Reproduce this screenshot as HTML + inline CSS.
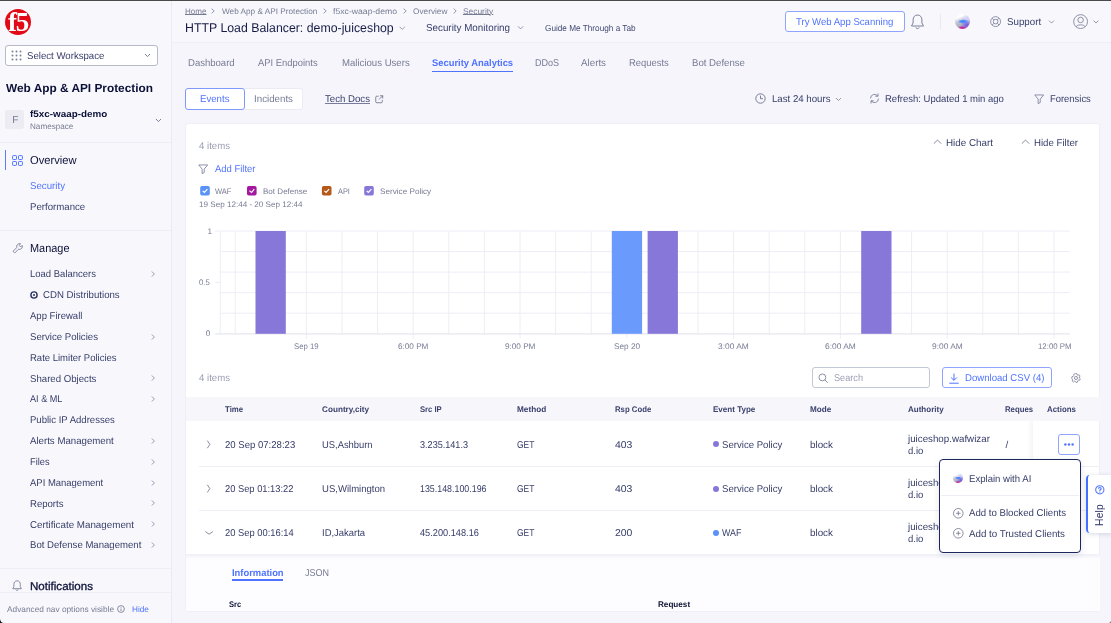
<!DOCTYPE html>
<html lang="en"><head><meta charset="utf-8"><title>HTTP Load Balancer: demo-juiceshop</title>
<style>
*{box-sizing:border-box;margin:0;padding:0}
html,body{width:1111px;height:623px;overflow:hidden}
body{position:relative;background:#f5f5fb;font-family:"Liberation Sans",sans-serif;color:#2a3263}
.a{position:absolute;display:block}
.t{text-rendering:geometricPrecision;position:absolute;white-space:nowrap;z-index:5;transform-origin:0 50%}
svg{overflow:visible}
.ln{position:absolute;background:#eeeef6;height:1px}

</style></head>
<body>
<!-- page backgrounds -->
<div class="a" style="left:0;top:0;width:172px;height:623px;background:#f8f8fc;border-right:1px solid #ebebf5"></div>
<div class="a" style="left:0;top:0;width:1111px;height:1px;background:#4a4a4a;z-index:40"></div>
<div class="a" style="left:172px;top:1px;width:939px;height:41px;background:#f7f7fc"></div>
<div class="ln" style="left:172px;top:42px;width:939px"></div>

<!-- logo -->
<div class="a" style="left:5.2px;top:8.5px;width:26.3px;height:26.3px;border-radius:50%;background:#e20a17;overflow:hidden"><span class="a" style="left:2.7px;top:-1.4px;font-family:'Liberation Serif',serif;font-weight:700;font-size:27px;line-height:30px;letter-spacing:-1.2px;color:#fff">f5</span></div>

<!-- workspace select -->
<div class="a" style="left:5.4px;top:45.4px;width:152.6px;height:20.3px;background:#fff;border:1px solid #b7bacb;border-radius:3px"></div>
<svg class="a" style="left:11px;top:50.3px" width="11" height="11" viewBox="0 0 11 11" fill="#7b8099"><circle cx="1.5" cy="1.5" r="1"/><circle cx="5.5" cy="1.5" r="1"/><circle cx="9.5" cy="1.5" r="1"/><circle cx="1.5" cy="5.5" r="1"/><circle cx="5.5" cy="5.5" r="1"/><circle cx="9.5" cy="5.5" r="1"/><circle cx="1.5" cy="9.5" r="1"/><circle cx="5.5" cy="9.5" r="1"/><circle cx="9.5" cy="9.5" r="1"/></svg>
<svg class="a" style="left:144px;top:53px" width="7" height="5" viewBox="0 0 7 5"><path d="M1 1 L3.5 3.6 L6 1" fill="none" stroke="#7b8099" stroke-width="1"/></svg>

<!-- namespace -->
<div class="a" style="left:5.4px;top:110px;width:19px;height:19.2px;background:#ececf2;border-radius:2px"></div>
<svg class="a" style="left:154.5px;top:117.6px" width="7" height="5" viewBox="0 0 7 5"><path d="M1 1 L3.5 3.6 L6 1" fill="none" stroke="#7b8099" stroke-width="1"/></svg>
<div class="ln" style="left:0;top:142px;width:171px"></div>

<!-- overview -->
<div class="a" style="left:5px;top:149.8px;width:1.4px;height:20.4px;background:#5c7dff"></div>
<svg class="a" style="left:11.6px;top:154.8px" width="11" height="11" viewBox="0 0 11 11" fill="none" stroke="#4f73ff" stroke-width="1"><rect x="0.6" y="0.6" width="3.9" height="3.9" rx="0.7"/><rect x="6.5" y="0.6" width="3.9" height="3.9" rx="0.7"/><rect x="0.6" y="6.5" width="3.9" height="3.9" rx="0.7"/><rect x="6.5" y="6.5" width="3.9" height="3.9" rx="0.7"/></svg>
<div class="ln" style="left:0;top:230px;width:171px"></div>

<!-- manage wrench -->
<svg class="a" style="left:11.5px;top:242.5px" width="11" height="11" viewBox="0 0 11 11" fill="none" stroke="#7b8099" stroke-width="0.9" stroke-linejoin="round"><path d="M4.81 4.49 A2.9 2.9 0 0 1 8.63 0.83 L7.07 2.39 L8.61 3.93 L10.17 2.37 A2.9 2.9 0 0 1 6.51 6.19 L2.75 9.95 L1.05 8.25 Z"/></svg>
<!-- CDN icon -->
<svg class="a" style="left:29.7px;top:290.9px" width="8" height="8" viewBox="0 0 8 8"><circle cx="4" cy="4" r="3.1" fill="none" stroke="#2a3263" stroke-width="1.4"/><circle cx="4" cy="4" r="1" fill="#2a3263"/></svg>

<div class="ln" style="left:0;top:568px;width:171px"></div>
<!-- bell (sidebar) -->
<svg class="a" style="left:11.9px;top:580.4px" width="10.2" height="11.5" viewBox="0 0 10 11.5" fill="none" stroke="#7b8099" stroke-width="0.9" stroke-linejoin="round"><path d="M5 0.8 C2.9 0.8 1.8 2.5 1.8 4.3 V6.6 L0.7 8.7 H9.3 L8.2 6.6 V4.3 C8.2 2.5 7.1 0.8 5 0.8 Z"/><path d="M3.8 9.6 A1.3 1.3 0 0 0 6.2 9.6"/></svg>
<div class="a" style="left:0;top:592px;width:171px;height:31px;background:#f8f8fc;border-top:1px solid #eeeef6"></div>
<svg class="a" style="left:116.6px;top:605px" width="8" height="8" viewBox="0 0 8 8"><circle cx="4" cy="4" r="3.4" fill="none" stroke="#6c7189" stroke-width="0.8"/><path d="M4 3.5 V6 M4 2 V2.7" stroke="#6c7189" stroke-width="0.8"/></svg>

<!-- breadcrumb chevrons -->
<svg class="a" style="left:0;top:0" width="1111" height="44" viewBox="0 0 1111 44" fill="none" stroke="#8a8fa6" stroke-width="0.9">
<path d="M211.6 8.6 L214.2 11 L211.6 13.4"/><path d="M323.6 8.6 L326.2 11 L323.6 13.4"/><path d="M403.6 8.6 L406.2 11 L403.6 13.4"/><path d="M453.6 8.6 L456.2 11 L453.6 13.4"/>
<path d="M399.6 26.8 L402.2 29.4 L404.8 26.8"/><path d="M518 26.3 L520.6 28.9 L523.2 26.3"/>
<path d="M1049 20.6 L1051.5 23.1 L1054 20.6"/><path d="M1093.6 20.6 L1096 23 L1098.4 20.6"/>
</svg>

<!-- try button -->
<div class="a" style="left:784.7px;top:11px;width:120px;height:21px;border:1px solid #8ea4ff;border-radius:3px;background:#fff"></div>
<!-- bell header -->
<svg class="a" style="left:909.8px;top:13.6px" width="15" height="16" viewBox="0 0 14 16" fill="none" stroke="#7b8099" stroke-width="1" stroke-linejoin="round"><path d="M7 1 C4.2 1 2.6 3.2 2.6 5.8 V9 L1 12 H13 L11.4 9 V5.800 C11.4 3.2 9.8 1 7 1 Z"/><path d="M5.300 13.400 A1.8 1.800 0 0 0 8.700 13.400"/></svg>
<div class="a" style="left:940.2px;top:14px;width:1px;height:15px;background:#e8e9f1"></div>
<!-- avatar -->
<div class="a" style="left:954.9px;top:14.1px;width:15.4px;height:15.4px;border-radius:50%;background:radial-gradient(ellipse 30% 14% at 48% 94%,#d0289a 0,#c527a5 50%,rgba(197,39,165,0) 100%),radial-gradient(ellipse 36% 15% at 54% 50%,#3f84ff 0,#4c8aff 45%,rgba(76,138,255,0) 100%),radial-gradient(circle at 80% 74%,#7656e0 0,rgba(118,86,224,0) 36%),radial-gradient(circle at 88% 32%,#d6d4ff 0,rgba(214,212,255,0) 40%),linear-gradient(160deg,#ffffff 22%,#c3c4d3 45%,#a3a5bc 78%)"></div>
<!-- support icon -->
<svg class="a" style="left:990px;top:15.900px" width="11.2" height="11.200" viewBox="0 0 12 12" fill="none" stroke="#7b8099" stroke-width="0.9"><circle cx="6" cy="6" r="5.300"/><circle cx="6" cy="6" r="2.500"/><path d="M2.300 2.300 L4.200 4.200 M9.700 2.300 L7.800 4.200 M2.300 9.700 L4.200 7.800 M9.700 9.700 L7.800 7.800"/></svg>
<!-- user icon -->
<svg class="a" style="left:1073px;top:13.900px" width="15.2" height="15.200" viewBox="0 0 16 16" fill="none" stroke="#7b8099" stroke-width="0.9"><circle cx="8" cy="8" r="7.300"/><circle cx="8" cy="6.300" r="2.900"/><path d="M3.300 13.400 C4 10.800 12 10.800 12.700 13.400"/></svg>

<!-- tab underline -->
<div class="a" style="left:432.300px;top:70.6px;width:81.1px;height:1.3px;background:#4f73ff"></div>

<!-- Events / Incidents -->
<div class="a" style="left:244px;top:88px;width:59.3px;height:22px;background:#fff;border:1px solid #ebebf4;border-left:none;border-radius:0 3px 3px 0"></div>
<div class="a" style="left:185px;top:88px;width:59.6px;height:22px;background:#fff;border:1px solid #7f99ff;border-radius:3px"></div>
<svg class="a" style="left:374.600px;top:94.600px" width="8.500" height="8.500" viewBox="0 0 9 9" fill="none" stroke="#6c7189" stroke-width="0.9"><path d="M3.800 1.300 H1.800 A1 1 0 0 0 0.800 2.300 V7.200 A1 1 0 0 0 1.800 8.200 H6.700 A1 1 0 0 0 7.700 7.200 V5.200"/><path d="M5.300 0.800 H8.200 V3.700 M8.200 0.800 L4.300 4.700"/></svg>
<!-- clock -->
<svg class="a" style="left:755.3px;top:93.4px" width="11" height="11" viewBox="0 0 11 11" fill="none" stroke="#6c7189" stroke-width="0.9"><circle cx="5.500" cy="5.500" r="4.700"/><path d="M5.500 2.600 V5.700 H8"/></svg>
<svg class="a" style="left:834.6px;top:96.6px" width="7" height="5" viewBox="0 0 7 5"><path d="M1 1 L3.500 3.500 L6 1" fill="none" stroke="#8a8fa6" stroke-width="0.9"/></svg>
<!-- refresh -->
<svg class="a" style="left:869px;top:93.400px" width="11" height="11" viewBox="0 0 11 11" fill="none" stroke="#7b8099" stroke-width="0.9" stroke-linecap="round" stroke-linejoin="round"><path d="M1.500 5 A4 4 0 0 1 8.700 3"/><path d="M9 0.900 V3.200 H6.700"/><path d="M9.500 6 A4 4 0 0 1 2.300 8"/><path d="M2 10.100 V7.800 H4.300"/></svg>
<!-- funnel forensics -->
<svg class="a" style="left:1034.300px;top:93.800px" width="10.400" height="10.400" viewBox="0 0 11 11" fill="none" stroke="#7b8099" stroke-width="0.9" stroke-linejoin="round"><path d="M0.800 1 H10.200 L6.600 5.400 V9 L4.400 10.200 V5.400 Z"/></svg>

<!-- card -->
<div class="a" style="left:185px;top:123px;width:915px;height:489px;background:#fff;border:1px solid #efeff7;border-radius:3px"></div>
<svg class="a" style="left:932.6px;top:139.4px" width="9" height="5.5" viewBox="0 0 9 5.5"><path d="M0.800 4.700 L4.500 1 L8.200 4.700" fill="none" stroke="#7b8099" stroke-width="0.9"/></svg>
<svg class="a" style="left:1020.6px;top:139.4px" width="9" height="5.5" viewBox="0 0 9 5.5"><path d="M0.800 4.700 L4.500 1 L8.200 4.700" fill="none" stroke="#7b8099" stroke-width="0.9"/></svg>
<svg class="a" style="left:198.200px;top:163.600px" width="10.400" height="10.400" viewBox="0 0 11 11" fill="none" stroke="#7b8099" stroke-width="0.9" stroke-linejoin="round"><path d="M0.800 1 H10.200 L6.600 5.400 V9 L4.400 10.200 V5.400 Z"/></svg>

<!-- legend checkboxes -->
<svg class="a" style="left:0;top:0" width="1111" height="623" viewBox="0 0 1111 623">
<g>
<rect x="200.200" y="186" width="9.600" height="9.600" rx="1.800" fill="#5b92f8"/><rect x="247" y="186" width="9.600" height="9.600" rx="1.800" fill="#a3189f"/><rect x="321.900" y="186" width="9.600" height="9.600" rx="1.800" fill="#b5591a"/><rect x="364.200" y="186" width="9.600" height="9.600" rx="1.800" fill="#8777d9"/>
<g fill="none" stroke="#fff" stroke-width="1.200"><path d="M202.700 190.800 L204.400 192.500 L207.400 189.200"/><path d="M249.500 190.800 L251.6 192.500 L254.200 189.200"/><path d="M324.400 190.800 L326.100 192.500 L329.100 189.200"/><path d="M366.700 190.800 L368.400 192.500 L371.400 189.200"/></g>
</g>
<!-- chart -->
<g stroke="#ededf6" stroke-width="1" fill="none">
<path d="M215 231.0 H1069.900 M220.200 251.6 H1069.900 M220.200 272.1 H1069.900 M220.200 292.7 H1069.900 M220.200 313.2 H1069.900"/>
<path d="M215 282.4 H220.200"/>
<path d="M220.200 231.0 V333.8 M235.200 231.0 V333.8 M270.800 231.0 V333.8 M306.400 231.0 V338.8 M342 231.0 V333.8 M377.600 231.0 V333.8 M413.200 231.0 V338.8 M448.800 231.0 V333.8 M484.400 231.0 V333.8 M520 231.0 V338.8 M555.600 231.0 V333.8 M591.200 231.0 V333.8 M626.800 231.0 V338.8 M662.400 231.0 V333.8 M698 231.0 V333.8 M733.600 231.0 V338.8 M769.200 231.0 V333.8 M804.800 231.0 V333.8 M840.400 231.0 V338.8 M876 231.0 V333.8 M911.600 231.0 V333.8 M947.200 231.0 V338.8 M982.800 231.0 V333.8 M1018.400 231.0 V333.8 M1054 231.0 V338.8"/>
</g>
<path d="M215 333.8 H1069.900" stroke="#e6e6f0" stroke-width="1.200" fill="none"/>
<rect x="255.500" y="231.0" width="30.300" height="102.8" fill="#8777d9"/>
<rect x="611.800" y="231.0" width="30.300" height="102.8" fill="#6a9bfc"/>
<rect x="647.600" y="231.0" width="30.300" height="102.8" fill="#8777d9"/>
<rect x="861.200" y="231.0" width="30.300" height="102.8" fill="#8777d9"/>
</svg>

<!-- search / download / gear -->
<div class="a" style="left:812px;top:367.200px;width:118px;height:21px;background:#fff;border:1px solid #c3c6d4;border-radius:3px"></div>
<svg class="a" style="left:818px;top:372.600px" width="10.500" height="10.500" viewBox="0 0 11 11" fill="none" stroke="#7b8099" stroke-width="0.9"><circle cx="4.600" cy="4.600" r="3.600"/><path d="M7.300 7.300 L10.200 10.200"/></svg>
<div class="a" style="left:942.200px;top:367.200px;width:110px;height:21px;background:#fff;border:1px solid #8ea4ff;border-radius:3px"></div>
<svg class="a" style="left:949px;top:372.6px" width="10" height="11" viewBox="0 0 10 11" fill="none" stroke="#4f73ff" stroke-width="1"><path d="M5 0.600 V7.200 M2.100 4.500 L5 7.400 L7.900 4.500 M0.300 10.200 H9.700"/></svg>
<svg class="a" style="left:1070.6px;top:372.8px" width="10" height="10" viewBox="0 0 11 11" fill="none" stroke="#7b8099" stroke-width="0.9" stroke-linejoin="round"><path d="M4.600 0.700 H6.400 L6.700 2 L7.700 2.500 L8.900 1.900 L10 3.400 L9.100 4.400 V5.500 L10.200 6.300 L9.500 8 L8.100 7.900 L7.300 8.600 L7.200 10 L5.500 10.400 L4.800 9.200 L3.700 9 L2.700 9.900 L1.300 8.800 L1.800 7.500 L1.300 6.500 L0.700 5.700 L1.100 4 L2.400 3.800 L3 2.900 L2.900 1.600 Z" transform="translate(0,0)"/><circle cx="5.500" cy="5.500" r="1.700"/></svg>

<!-- table -->
<div class="a" style="left:185.5px;top:397px;width:914px;height:24.200px;background:#f6f6fb"></div>
<div class="ln" style="left:199px;top:466px;width:899.500px"></div>
<div class="ln" style="left:199px;top:510px;width:899.500px"></div>
<!-- sticky actions column shadow -->
<div class="a" style="left:1027px;top:421.200px;width:6px;height:133px;background:linear-gradient(to right,rgba(120,125,170,0),rgba(120,125,170,0.07))"></div>
<!-- expanded row area -->
<div class="a" style="left:185.5px;top:554.3px;width:914px;height:57px;background:#fdfdff"></div>
<div class="a" style="left:185.5px;top:554.3px;width:914px;height:5px;background:linear-gradient(to bottom,rgba(110,115,170,0.10),rgba(110,115,170,0))"></div>
<svg class="a" style="left:0;top:0" width="1111" height="623" viewBox="0 0 1111 623" fill="none" stroke="#7b8099" stroke-width="0.9">
<path d="M207.300 440.600 L209.900 444.400 L207.300 448.200"/><path d="M207.300 484.800 L209.900 488.600 L207.300 492.400"/><path d="M205.300 531.600 L209.100 534.200 L212.900 531.600"/>
</svg>
<div class="a" style="left:712.500px;top:441.400px;width:6px;height:6px;border-radius:50%;background:#8777d9"></div>
<div class="a" style="left:712.500px;top:485.600px;width:6px;height:6px;border-radius:50%;background:#8777d9"></div>
<div class="a" style="left:712.500px;top:529.800px;width:6px;height:6px;border-radius:50%;background:#5b92f8"></div>
<!-- action button -->
<div class="a" style="left:1058.300px;top:433.700px;width:21.300px;height:21px;background:#fff;border:1px solid #8fa5ff;border-radius:3px"></div>
<svg class="a" style="left:1063.900px;top:443px" width="10" height="3" viewBox="0 0 10 3" fill="#4f73ff"><circle cx="1.400" cy="1.500" r="1.2"/><circle cx="5" cy="1.500" r="1.2"/><circle cx="8.600" cy="1.500" r="1.2"/></svg>
<!-- info underline -->
<div class="a" style="left:231.700px;top:579.4px;width:51.6px;height:1.2px;background:#4f73ff"></div>

<!-- popup -->
<div class="a" style="left:938.9px;top:459px;width:141.8px;height:94.2px;background:#fff;border:1px solid #1c2560;border-radius:4px;z-index:20;box-shadow:0 2px 6px rgba(40,50,110,0.12)"></div>
<div class="a" style="left:940.5px;top:495px;width:138.5px;height:1px;background:#ededf4;z-index:21"></div>
<div class="a" style="left:953.400px;top:473.400px;width:9.400px;height:9.400px;border-radius:50%;z-index:21;background:radial-gradient(ellipse 30% 14% at 48% 94%,#d0289a 0,#c527a5 50%,rgba(197,39,165,0) 100%),radial-gradient(ellipse 36% 15% at 54% 50%,#3f84ff 0,#4c8aff 45%,rgba(76,138,255,0) 100%),radial-gradient(circle at 80% 74%,#7656e0 0,rgba(118,86,224,0) 36%),radial-gradient(circle at 88% 32%,#d6d4ff 0,rgba(214,212,255,0) 40%),linear-gradient(160deg,#ffffff 22%,#c3c4d3 45%,#a3a5bc 78%)"></div>
<svg class="a" style="left:952.8px;top:507.5px;z-index:21" width="10.6" height="10.6" viewBox="0 0 10.6 10.6" fill="none" stroke="#70758d" stroke-width="0.8"><circle cx="5.3" cy="5.3" r="4.8"/><path d="M5.3 3.1 V7.5 M3.1 5.3 H7.5"/></svg>
<svg class="a" style="left:952.8px;top:528.3px;z-index:21" width="10.6" height="10.6" viewBox="0 0 10.6 10.6" fill="none" stroke="#70758d" stroke-width="0.8"><circle cx="5.3" cy="5.3" r="4.8"/><path d="M5.3 3.1 V7.5 M3.1 5.3 H7.5"/></svg>

<!-- help tab -->
<div class="a" style="left:1086.400px;top:475.400px;width:26px;height:57.200px;background:#fff;border-left:2.5px solid #4370ff;border-radius:4px 0 0 4px;box-shadow:0 1px 5px rgba(40,50,110,0.18);z-index:25"></div>
<svg class="a" style="left:1095px;top:485.200px;z-index:26" width="9.600" height="9.600" viewBox="0 0 10 10" fill="none" stroke="#4f73ff" stroke-width="1.1"><circle cx="5" cy="5" r="4.300"/><path d="M3.600 4 A1.400 1.400 0 1 1 5 5.400 V6.100" stroke-width="1.2"/><path d="M5 6.9 V7.900" stroke-width="1.2"/></svg>
<span class="a" style="left:1080px;top:508.500px;width:40px;height:12px;line-height:12px;font-size:10.300px;text-align:center;color:#2a3263;transform:rotate(-90deg);z-index:26;letter-spacing:0.2px">Help</span>

<!-- window corners -->
<svg class="a" style="left:0;top:618px;z-index:50" width="5" height="5" viewBox="0 0 5 5"><path d="M0 0.800 Q0.300 5 4 5 L0 5 Z" fill="#0a0a12"/></svg>
<svg class="a" style="left:1108px;top:620px;z-index:50" width="3" height="3" viewBox="0 0 3 3"><path d="M3 0.800 Q2.800 3 0.800 3 L3 3 Z" fill="#55565e"/></svg>

<svg class="a" style="left:150px;top:270.10px" width="6" height="8" viewBox="0 0 6 8"><path d="M1.9 1.5 L4.4 4 L1.9 6.5" fill="none" stroke="#8a8fa6" stroke-width="0.9"/></svg><svg class="a" style="left:150px;top:332.65px" width="6" height="8" viewBox="0 0 6 8"><path d="M1.9 1.5 L4.4 4 L1.9 6.5" fill="none" stroke="#8a8fa6" stroke-width="0.9"/></svg><svg class="a" style="left:150px;top:374.35px" width="6" height="8" viewBox="0 0 6 8"><path d="M1.9 1.5 L4.4 4 L1.9 6.5" fill="none" stroke="#8a8fa6" stroke-width="0.9"/></svg><svg class="a" style="left:150px;top:395.20px" width="6" height="8" viewBox="0 0 6 8"><path d="M1.9 1.5 L4.4 4 L1.9 6.5" fill="none" stroke="#8a8fa6" stroke-width="0.9"/></svg><svg class="a" style="left:150px;top:436.90px" width="6" height="8" viewBox="0 0 6 8"><path d="M1.9 1.5 L4.4 4 L1.9 6.5" fill="none" stroke="#8a8fa6" stroke-width="0.9"/></svg><svg class="a" style="left:150px;top:457.75px" width="6" height="8" viewBox="0 0 6 8"><path d="M1.9 1.5 L4.4 4 L1.9 6.5" fill="none" stroke="#8a8fa6" stroke-width="0.9"/></svg><svg class="a" style="left:150px;top:478.60px" width="6" height="8" viewBox="0 0 6 8"><path d="M1.9 1.5 L4.4 4 L1.9 6.5" fill="none" stroke="#8a8fa6" stroke-width="0.9"/></svg><svg class="a" style="left:150px;top:499.45px" width="6" height="8" viewBox="0 0 6 8"><path d="M1.9 1.5 L4.4 4 L1.9 6.5" fill="none" stroke="#8a8fa6" stroke-width="0.9"/></svg><svg class="a" style="left:150px;top:520.30px" width="6" height="8" viewBox="0 0 6 8"><path d="M1.9 1.5 L4.4 4 L1.9 6.5" fill="none" stroke="#8a8fa6" stroke-width="0.9"/></svg><svg class="a" style="left:150px;top:541.15px" width="6" height="8" viewBox="0 0 6 8"><path d="M1.9 1.5 L4.4 4 L1.9 6.5" fill="none" stroke="#8a8fa6" stroke-width="0.9"/></svg>
<span class="t" style="left:26.60px;top:51.45px;font-size:9.89px;line-height:11.87px;color:#363d69;transform:scaleX(0.9747);">Select Workspace</span>
<span class="t" style="left:5.60px;top:80.79px;font-size:11.80px;line-height:14.16px;font-weight:700;color:#0b1038;transform:scaleX(1.0043);">Web App &amp; API Protection</span>
<span class="t" style="left:12.20px;top:114.61px;font-size:10.20px;line-height:12.24px;color:#767b93;transform:scaleX(1.0000);">F</span>
<span class="t" style="left:30.00px;top:109.06px;font-size:9.30px;line-height:11.16px;font-weight:700;color:#0b1038;transform:scaleX(1.0609);">f5xc-waap-demo</span>
<span class="t" style="left:30.00px;top:121.50px;font-size:8.16px;line-height:9.79px;color:#767b93;transform:scaleX(0.9970);">Namespace</span>
<span class="t" style="left:30.20px;top:154.85px;font-size:11.53px;line-height:13.84px;color:#0b1038;transform:scaleX(0.9688);">Overview</span>
<span class="t" style="left:30.00px;top:181.00px;font-size:9.89px;line-height:11.87px;color:#4f73ff;transform:scaleX(0.9812);">Security</span>
<span class="t" style="left:30.00px;top:202.00px;font-size:9.89px;line-height:11.87px;color:#363d69;transform:scaleX(0.9765);">Performance</span>
<span class="t" style="left:30.00px;top:242.55px;font-size:11.53px;line-height:13.84px;color:#0b1038;transform:scaleX(0.9489);">Manage</span>
<span class="t" style="left:30.00px;top:268.90px;font-size:9.89px;line-height:11.87px;color:#363d69;transform:scaleX(0.9617);">Load Balancers</span>
<span class="t" style="left:42.80px;top:289.75px;font-size:9.89px;line-height:11.87px;color:#363d69;transform:scaleX(0.9773);">CDN Distributions</span>
<span class="t" style="left:30.00px;top:310.60px;font-size:9.89px;line-height:11.87px;color:#363d69;transform:scaleX(0.9642);">App Firewall</span>
<span class="t" style="left:30.00px;top:332.45px;font-size:9.89px;line-height:11.87px;color:#363d69;transform:scaleX(0.9756);">Service Policies</span>
<span class="t" style="left:30.00px;top:353.30px;font-size:9.89px;line-height:11.87px;color:#363d69;transform:scaleX(0.9621);">Rate Limiter Policies</span>
<span class="t" style="left:30.00px;top:374.15px;font-size:9.89px;line-height:11.87px;color:#363d69;transform:scaleX(0.9754);">Shared Objects</span>
<span class="t" style="left:30.00px;top:394.00px;font-size:9.89px;line-height:11.87px;color:#363d69;transform:scaleX(0.9224);">AI &amp; ML</span>
<span class="t" style="left:30.00px;top:414.85px;font-size:9.89px;line-height:11.87px;color:#363d69;transform:scaleX(0.9674);">Public IP Addresses</span>
<span class="t" style="left:30.00px;top:435.70px;font-size:9.89px;line-height:11.87px;color:#363d69;transform:scaleX(0.9785);">Alerts Management</span>
<span class="t" style="left:30.00px;top:456.55px;font-size:9.89px;line-height:11.87px;color:#363d69;transform:scaleX(0.9396);">Files</span>
<span class="t" style="left:30.00px;top:478.40px;font-size:9.89px;line-height:11.87px;color:#363d69;transform:scaleX(0.9592);">API Management</span>
<span class="t" style="left:30.00px;top:499.25px;font-size:9.89px;line-height:11.87px;color:#363d69;transform:scaleX(0.9688);">Reports</span>
<span class="t" style="left:30.00px;top:520.10px;font-size:9.89px;line-height:11.87px;color:#363d69;transform:scaleX(0.9920);">Certificate Management</span>
<span class="t" style="left:30.00px;top:539.95px;font-size:9.89px;line-height:11.87px;color:#363d69;transform:scaleX(0.9701);">Bot Defense Management</span>
<span class="t" style="left:30.00px;top:580.65px;font-size:11.42px;line-height:13.70px;color:#0b1038;transform:scaleX(1.0138);-webkit-text-stroke:0.3px #0b1038">Notifications</span>
<span class="t" style="left:6.80px;top:604.85px;font-size:8.26px;line-height:9.91px;color:#767b93;transform:scaleX(1.0056);">Advanced nav options visible</span>
<span class="t" style="left:131.60px;top:604.85px;font-size:8.26px;line-height:9.91px;color:#4f73ff;transform:scaleX(0.9959);">Hide</span>
<span class="t" style="left:185.00px;top:6.85px;font-size:8.16px;line-height:9.79px;color:#767b93;transform:scaleX(0.9878);text-decoration:underline;text-underline-offset:0.4px;text-decoration-thickness:0.7px">Home</span>
<span class="t" style="left:222.00px;top:6.85px;font-size:8.16px;line-height:9.79px;color:#767b93;transform:scaleX(1.0073);">Web App &amp; API Protection</span>
<span class="t" style="left:333.00px;top:6.85px;font-size:8.16px;line-height:9.79px;color:#767b93;transform:scaleX(1.0614);">f5xc-waap-demo</span>
<span class="t" style="left:412.60px;top:6.85px;font-size:8.16px;line-height:9.79px;color:#767b93;transform:scaleX(1.0118);">Overview</span>
<span class="t" style="left:463.00px;top:6.85px;font-size:8.16px;line-height:9.79px;color:#767b93;transform:scaleX(1.0282);text-decoration:underline;text-underline-offset:0.4px;text-decoration-thickness:0.7px">Security</span>
<span class="t" style="left:185.00px;top:20.88px;font-size:12.65px;line-height:15.18px;color:#171d47;transform:scaleX(0.9749);">HTTP Load Balancer: demo-juiceshop</span>
<span class="t" style="left:426.00px;top:22.61px;font-size:10.10px;line-height:12.12px;color:#363d69;transform:scaleX(0.9722);">Security Monitoring</span>
<span class="t" style="left:545.40px;top:22.96px;font-size:8.67px;line-height:10.40px;color:#454c75;transform:scaleX(0.9492);">Guide Me Through a Tab</span>
<span class="t" style="left:796.40px;top:16.70px;font-size:9.89px;line-height:11.87px;color:#4f73ff;transform:scaleX(0.9686);">Try Web App Scanning</span>
<span class="t" style="left:1006.60px;top:16.70px;font-size:9.89px;line-height:11.87px;color:#363d69;transform:scaleX(0.9857);">Support</span>
<span class="t" style="left:188.40px;top:58.10px;font-size:9.89px;line-height:11.87px;color:#767b93;transform:scaleX(0.9646);">Dashboard</span>
<span class="t" style="left:258.40px;top:58.10px;font-size:9.89px;line-height:11.87px;color:#767b93;transform:scaleX(0.9522);">API Endpoints</span>
<span class="t" style="left:341.80px;top:58.10px;font-size:9.89px;line-height:11.87px;color:#767b93;transform:scaleX(0.9713);">Malicious Users</span>
<span class="t" style="left:432.30px;top:58.29px;font-size:9.70px;line-height:11.64px;font-weight:700;color:#4f73ff;transform:scaleX(0.9696);">Security Analytics</span>
<span class="t" style="left:534.80px;top:58.10px;font-size:9.89px;line-height:11.87px;color:#767b93;transform:scaleX(0.9110);">DDoS</span>
<span class="t" style="left:581.00px;top:58.10px;font-size:9.89px;line-height:11.87px;color:#767b93;transform:scaleX(0.9901);">Alerts</span>
<span class="t" style="left:629.30px;top:58.10px;font-size:9.89px;line-height:11.87px;color:#767b93;transform:scaleX(0.9516);">Requests</span>
<span class="t" style="left:691.60px;top:58.10px;font-size:9.89px;line-height:11.87px;color:#767b93;transform:scaleX(0.9732);">Bot Defense</span>
<span class="t" style="left:200.00px;top:93.90px;font-size:9.89px;line-height:11.87px;color:#4f73ff;transform:scaleX(0.9767);">Events</span>
<span class="t" style="left:254.00px;top:93.90px;font-size:9.89px;line-height:11.87px;color:#767b93;transform:scaleX(0.9866);">Incidents</span>
<span class="t" style="left:324.60px;top:93.90px;font-size:9.89px;line-height:11.87px;color:#363d69;transform:scaleX(0.9759);text-decoration:underline;text-underline-offset:1px;text-decoration-thickness:0.7px;text-decoration-color:#777c9c">Tech Docs</span>
<span class="t" style="left:772.00px;top:93.90px;font-size:9.89px;line-height:11.87px;color:#363d69;transform:scaleX(0.9775);">Last 24 hours</span>
<span class="t" style="left:885.00px;top:93.90px;font-size:9.89px;line-height:11.87px;color:#363d69;transform:scaleX(0.9626);">Refresh: Updated 1 min ago</span>
<span class="t" style="left:1050.20px;top:93.90px;font-size:9.89px;line-height:11.87px;color:#363d69;transform:scaleX(0.9530);">Forensics</span>
<span class="t" style="left:199.00px;top:141.00px;font-size:9.89px;line-height:11.87px;color:#9a9fb3;transform:scaleX(0.9735);">4 items</span>
<span class="t" style="left:946.00px;top:138.10px;font-size:9.89px;line-height:11.87px;color:#363d69;transform:scaleX(0.9957);">Hide Chart</span>
<span class="t" style="left:1034.00px;top:138.10px;font-size:9.89px;line-height:11.87px;color:#363d69;transform:scaleX(0.9778);">Hide Filter</span>
<span class="t" style="left:214.50px;top:163.80px;font-size:9.89px;line-height:11.87px;color:#4f73ff;transform:scaleX(0.9582);">Add Filter</span>
<span class="t" style="left:215.30px;top:186.94px;font-size:8.06px;line-height:9.67px;color:#767b93;transform:scaleX(0.9321);">WAF</span>
<span class="t" style="left:262.70px;top:186.94px;font-size:8.06px;line-height:9.67px;color:#767b93;transform:scaleX(1.0001);">Bot Defense</span>
<span class="t" style="left:337.50px;top:186.94px;font-size:8.06px;line-height:9.67px;color:#767b93;transform:scaleX(0.9165);">API</span>
<span class="t" style="left:379.80px;top:186.94px;font-size:8.06px;line-height:9.67px;color:#767b93;transform:scaleX(1.0129);">Service Policy</span>
<span class="t" style="left:199.00px;top:199.54px;font-size:8.06px;line-height:9.67px;color:#767b93;transform:scaleX(1.0058);">19 Sep 12:44 - 20 Sep 12:44</span>
<span class="t" style="left:207.50px;top:226.85px;font-size:8.16px;line-height:9.79px;color:#767b93;transform:scaleX(1.0000);">1</span>
<span class="t" style="left:199.30px;top:278.25px;font-size:8.16px;line-height:9.79px;color:#767b93;transform:scaleX(0.9433);">0.5</span>
<span class="t" style="left:205.80px;top:328.55px;font-size:8.16px;line-height:9.79px;color:#767b93;transform:scaleX(1.0000);">0</span>
<span class="t" style="left:293.80px;top:341.55px;font-size:8.16px;line-height:9.79px;color:#767b93;transform:scaleX(0.9552);">Sep 19</span>
<span class="t" style="left:398.00px;top:341.55px;font-size:8.16px;line-height:9.79px;color:#767b93;transform:scaleX(1.0008);">6:00 PM</span>
<span class="t" style="left:504.80px;top:341.55px;font-size:8.16px;line-height:9.79px;color:#767b93;transform:scaleX(1.0008);">9:00 PM</span>
<span class="t" style="left:613.80px;top:341.55px;font-size:8.16px;line-height:9.79px;color:#767b93;transform:scaleX(1.0132);">Sep 20</span>
<span class="t" style="left:718.40px;top:341.55px;font-size:8.16px;line-height:9.79px;color:#767b93;transform:scaleX(1.0288);">3:00 AM</span>
<span class="t" style="left:825.20px;top:341.55px;font-size:8.16px;line-height:9.79px;color:#767b93;transform:scaleX(1.0288);">6:00 AM</span>
<span class="t" style="left:932.30px;top:341.55px;font-size:8.16px;line-height:9.79px;color:#767b93;transform:scaleX(1.0255);">9:00 AM</span>
<span class="t" style="left:1037.60px;top:341.55px;font-size:8.16px;line-height:9.79px;color:#767b93;transform:scaleX(0.9621);">12:00 PM</span>
<span class="t" style="left:199.00px;top:373.00px;font-size:9.89px;line-height:11.87px;color:#9a9fb3;transform:scaleX(0.9735);">4 items</span>
<span class="t" style="left:834.00px;top:372.90px;font-size:9.89px;line-height:11.87px;color:#9a9fb3;transform:scaleX(0.9266);">Search</span>
<span class="t" style="left:964.50px;top:372.90px;font-size:9.89px;line-height:11.87px;color:#4f73ff;transform:scaleX(0.9721);">Download CSV (4)</span>
<span class="t" style="left:224.90px;top:404.91px;font-size:8.20px;line-height:9.84px;font-weight:700;color:#3a416c;transform:scaleX(0.9542);">Time</span>
<span class="t" style="left:322.40px;top:404.91px;font-size:8.20px;line-height:9.84px;font-weight:700;color:#3a416c;transform:scaleX(0.9985);">Country,city</span>
<span class="t" style="left:419.70px;top:404.91px;font-size:8.20px;line-height:9.84px;font-weight:700;color:#3a416c;transform:scaleX(0.9303);">Src IP</span>
<span class="t" style="left:517.40px;top:404.91px;font-size:8.20px;line-height:9.84px;font-weight:700;color:#3a416c;transform:scaleX(1.0031);">Method</span>
<span class="t" style="left:614.80px;top:404.91px;font-size:8.20px;line-height:9.84px;font-weight:700;color:#3a416c;transform:scaleX(0.9472);">Rsp Code</span>
<span class="t" style="left:712.50px;top:404.91px;font-size:8.20px;line-height:9.84px;font-weight:700;color:#3a416c;transform:scaleX(0.9819);">Event Type</span>
<span class="t" style="left:810.20px;top:404.91px;font-size:8.20px;line-height:9.84px;font-weight:700;color:#3a416c;transform:scaleX(0.9958);">Mode</span>
<span class="t" style="left:907.90px;top:404.91px;font-size:8.20px;line-height:9.84px;font-weight:700;color:#3a416c;transform:scaleX(0.9783);">Authority</span>
<span class="t" style="left:1005.40px;top:404.91px;font-size:8.20px;line-height:9.84px;font-weight:700;color:#3a416c;transform:scaleX(0.9500);">Reques</span>
<span class="t" style="left:1047.10px;top:404.91px;font-size:8.20px;line-height:9.84px;font-weight:700;color:#3a416c;transform:scaleX(0.9623);">Actions</span>
<span class="t" style="left:225.00px;top:440.40px;font-size:9.89px;line-height:11.87px;color:#363d69;transform:scaleX(0.9685);">20 Sep 07:28:23</span>
<span class="t" style="left:322.40px;top:440.40px;font-size:9.89px;line-height:11.87px;color:#363d69;transform:scaleX(0.9502);">US,Ashburn</span>
<span class="t" style="left:419.70px;top:440.40px;font-size:9.89px;line-height:11.87px;color:#363d69;transform:scaleX(0.9200);">3.235.141.3</span>
<span class="t" style="left:517.40px;top:440.40px;font-size:9.89px;line-height:11.87px;color:#363d69;transform:scaleX(0.8566);">GET</span>
<span class="t" style="left:614.80px;top:440.40px;font-size:9.89px;line-height:11.87px;color:#363d69;transform:scaleX(1.0555);">403</span>
<span class="t" style="left:721.50px;top:440.40px;font-size:9.89px;line-height:11.87px;color:#363d69;transform:scaleX(0.9723);">Service Policy</span>
<span class="t" style="left:810.20px;top:440.40px;font-size:9.89px;line-height:11.87px;color:#363d69;transform:scaleX(0.9930);">block</span>
<span class="t" style="left:907.90px;top:433.50px;font-size:9.89px;line-height:11.87px;color:#363d69;transform:scaleX(0.9880);">juiceshop.wafwizar</span>
<span class="t" style="left:907.90px;top:445.80px;font-size:9.89px;line-height:11.87px;color:#363d69;transform:scaleX(0.9609);">d.io</span>
<span class="t" style="left:225.00px;top:484.40px;font-size:9.89px;line-height:11.87px;color:#363d69;transform:scaleX(0.9437);">20 Sep 01:13:22</span>
<span class="t" style="left:322.40px;top:484.40px;font-size:9.89px;line-height:11.87px;color:#363d69;transform:scaleX(0.9661);">US,Wilmington</span>
<span class="t" style="left:419.70px;top:484.40px;font-size:9.89px;line-height:11.87px;color:#363d69;transform:scaleX(0.8969);">135.148.100.196</span>
<span class="t" style="left:517.40px;top:484.40px;font-size:9.89px;line-height:11.87px;color:#363d69;transform:scaleX(0.8566);">GET</span>
<span class="t" style="left:614.80px;top:484.40px;font-size:9.89px;line-height:11.87px;color:#363d69;transform:scaleX(1.0555);">403</span>
<span class="t" style="left:721.50px;top:484.40px;font-size:9.89px;line-height:11.87px;color:#363d69;transform:scaleX(0.9723);">Service Policy</span>
<span class="t" style="left:810.20px;top:484.40px;font-size:9.89px;line-height:11.87px;color:#363d69;transform:scaleX(0.9930);">block</span>
<span class="t" style="left:907.90px;top:477.50px;font-size:9.89px;line-height:11.87px;color:#363d69;transform:scaleX(0.9880);">juiceshop.wafwizar</span>
<span class="t" style="left:907.90px;top:489.80px;font-size:9.89px;line-height:11.87px;color:#363d69;transform:scaleX(0.9609);">d.io</span>
<span class="t" style="left:225.00px;top:527.60px;font-size:9.89px;line-height:11.87px;color:#363d69;transform:scaleX(0.9478);">20 Sep 00:16:14</span>
<span class="t" style="left:322.40px;top:527.60px;font-size:9.89px;line-height:11.87px;color:#363d69;transform:scaleX(0.9574);">ID,Jakarta</span>
<span class="t" style="left:419.70px;top:527.60px;font-size:9.89px;line-height:11.87px;color:#363d69;transform:scaleX(0.9326);">45.200.148.16</span>
<span class="t" style="left:517.40px;top:527.60px;font-size:9.89px;line-height:11.87px;color:#363d69;transform:scaleX(0.8566);">GET</span>
<span class="t" style="left:614.80px;top:527.60px;font-size:9.89px;line-height:11.87px;color:#363d69;transform:scaleX(1.0555);">200</span>
<span class="t" style="left:721.50px;top:527.60px;font-size:9.89px;line-height:11.87px;color:#363d69;transform:scaleX(0.8991);">WAF</span>
<span class="t" style="left:810.20px;top:527.60px;font-size:9.89px;line-height:11.87px;color:#363d69;transform:scaleX(0.9930);">block</span>
<span class="t" style="left:907.90px;top:521.70px;font-size:9.89px;line-height:11.87px;color:#363d69;transform:scaleX(0.9880);">juiceshop.wafwizar</span>
<span class="t" style="left:907.90px;top:534.00px;font-size:9.89px;line-height:11.87px;color:#363d69;transform:scaleX(0.9609);">d.io</span>
<span class="t" style="left:1005.60px;top:440.40px;font-size:9.89px;line-height:11.87px;color:#363d69;transform:scaleX(1.0000);">/</span>
<span class="t" style="left:231.70px;top:567.58px;font-size:9.70px;line-height:11.64px;font-weight:700;color:#4f73ff;transform:scaleX(0.9684);">Information</span>
<span class="t" style="left:304.70px;top:568.40px;font-size:9.89px;line-height:11.87px;color:#767b93;transform:scaleX(0.9110);">JSON</span>
<span class="t" style="left:229.40px;top:599.51px;font-size:8.20px;line-height:9.84px;font-weight:700;color:#0b1033;transform:scaleX(0.9164);">Src</span>
<span class="t" style="left:658.40px;top:599.51px;font-size:8.20px;line-height:9.84px;font-weight:700;color:#0b1033;transform:scaleX(0.9934);">Request</span>
<span class="t" style="left:969.00px;top:474.30px;font-size:9.89px;line-height:11.87px;color:#363d69;transform:scaleX(0.9699);z-index:30;">Explain with AI</span>
<span class="t" style="left:969.00px;top:508.00px;font-size:9.89px;line-height:11.87px;color:#363d69;transform:scaleX(0.9763);z-index:30;">Add to Blocked Clients</span>
<span class="t" style="left:969.00px;top:529.00px;font-size:9.89px;line-height:11.87px;color:#363d69;transform:scaleX(0.9871);z-index:30;">Add to Trusted Clients</span>
</body></html>
